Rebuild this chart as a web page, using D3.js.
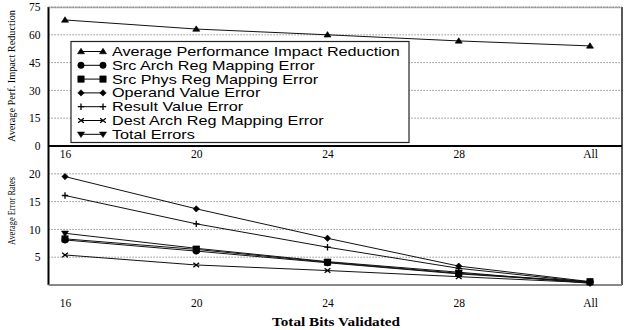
<!DOCTYPE html>
<html>
<head>
<meta charset="utf-8">
<script src="https://cdn.jsdelivr.net/npm/d3@7"></script>
<style>
  body { margin: 0; background: #fff; }
  svg { display: block; }
</style>
</head>
<body>
<div id="chart"></div>
<script>
const bits = ['16', '20', '24', '28', 'All'];
const perfReduction = [68, 63.1, 60, 56.7, 54];
const errorSeries = [
    { name: 'Src Arch Reg Mapping Error', symbol: 'circle', values: [8.1, 6.1, 4.0, 2.0, 0.5] },
    { name: 'Src Phys Reg Mapping Error', symbol: 'square', values: [8.3, 6.4, 4.1, 2.1, 0.6] },
    { name: 'Operand Value Error', symbol: 'diamond', values: [19.5, 13.7, 8.4, 3.4, 0.6] },
    { name: 'Result Value Error', symbol: 'plus', values: [16.1, 11.0, 6.8, 3.0, 0.5] },
    { name: 'Dest Arch Reg Mapping Error', symbol: 'x', values: [5.4, 3.6, 2.6, 1.5, 0.4] },
    { name: 'Total Errors', symbol: 'tridown', values: [9.3, 6.6, 4.2, 2.3, 0.3] }
];
const perfTicks = [0, 15, 30, 45, 60, 75];
const errTicks = [5, 10, 15, 20];

const width = 624, height = 330;
const left = 48.5, right = 622;
const svg = d3.select('#chart').append('svg')
    .attr('width', width).attr('height', height);

let x = d3.scalePoint().domain(bits).range([65, 590]);
let yTop = d3.scaleLinear().domain([0, 75]).range([146, 7]);
let yBot = d3.scaleLinear().domain([0, 25]).range([285, 146]);

const serif = 'Liberation Serif, Times New Roman, serif';
const sans = 'Liberation Sans, Arial, sans-serif';

function symbolPath(kind, cx, cy) {
    let s = 3.2;
    if (kind === 'triup') return `M${cx},${cy - s}L${cx + s * 1.1},${cy + s * 0.7}L${cx - s * 1.1},${cy + s * 0.7}Z`;
    if (kind === 'tridown') return `M${cx},${cy + s}L${cx + s * 1.1},${cy - s * 0.7}L${cx - s * 1.1},${cy - s * 0.7}Z`;
    if (kind === 'square') return `M${cx - s},${cy - s}h${2 * s}v${2 * s}h${-2 * s}Z`;
    if (kind === 'diamond') return `M${cx},${cy - s}L${cx + s},${cy}L${cx},${cy + s}L${cx - s},${cy}Z`;
    if (kind === 'plus') return `M${cx - s},${cy}H${cx + s}M${cx},${cy - s}V${cy + s}`;
    if (kind === 'x') return `M${cx - s * 0.9},${cy - s * 0.7}L${cx + s * 0.9},${cy + s * 0.7}M${cx - s * 0.9},${cy + s * 0.7}L${cx + s * 0.9},${cy - s * 0.7}`;
    // circle
    return `M${cx - s},${cy}a${s},${s} 0 1,0 ${2 * s},0a${s},${s} 0 1,0 ${-2 * s},0`;
}
function drawSymbol(g, kind, cx, cy) {
    let open = kind === 'plus' || kind === 'x';
    g.append('path')
        .attr('d', symbolPath(kind, cx, cy))
        .attr('fill', open ? 'none' : '#000')
        .attr('stroke', '#000')
        .attr('stroke-width', open ? 1.3 : 0.6);
}

// gridlines
function grid(scale, ticks) {
    svg.append('g').selectAll('line').data(ticks).join('line')
        .attr('x1', left).attr('x2', right)
        .attr('y1', d => scale(d)).attr('y2', d => scale(d))
        .attr('stroke', '#777').attr('stroke-width', 1)
        .attr('stroke-dasharray', '1.2,1.8');
}
grid(yTop, perfTicks.filter(d => d > 0));
grid(yBot, errTicks);

// y axes
const axTop = svg.append('g').attr('transform', `translate(${left},0)`)
    .call(d3.axisLeft(yTop).tickValues(perfTicks).tickSize(0).tickPadding(8));
const axBot = svg.append('g').attr('transform', `translate(${left},0)`)
    .call(d3.axisLeft(yBot).tickValues(errTicks).tickSize(0).tickPadding(8));
[axTop, axBot].forEach(a => {
    a.select('.domain').remove();
    a.selectAll('text').attr('font-family', serif).attr('font-size', 11.5).attr('fill', '#000');
});

// x axes (labels only)
const xTop = svg.append('g').attr('transform', 'translate(0,146)')
    .call(d3.axisBottom(x).tickSize(0).tickPadding(4));
const xBot = svg.append('g').attr('transform', 'translate(0,285)')
    .call(d3.axisBottom(x).tickSize(0).tickPadding(14));
[xTop, xBot].forEach(a => {
    a.select('.domain').remove();
    a.selectAll('text').attr('font-family', serif).attr('font-size', 11.5).attr('fill', '#000');
});

// frame
svg.append('line').attr('x1', left).attr('x2', left).attr('y1', 7).attr('y2', 285)
    .attr('stroke', '#000').attr('stroke-width', 2);
svg.append('line').attr('x1', right).attr('x2', right).attr('y1', 7).attr('y2', 285)
    .attr('stroke', '#222').attr('stroke-width', 1.5);
svg.append('line').attr('x1', left).attr('x2', right).attr('y1', 146).attr('y2', 146)
    .attr('stroke', '#000').attr('stroke-width', 1.8);
svg.append('line').attr('x1', left).attr('x2', right).attr('y1', 285).attr('y2', 285)
    .attr('stroke', '#888').attr('stroke-width', 2);
svg.append('line').attr('x1', left).attr('x2', right).attr('y1', 7.5).attr('y2', 7.5)
    .attr('stroke', '#777').attr('stroke-width', 1.5).attr('stroke-dasharray', '1.2,0.8');

// lines
const line = d3.line();
svg.append('path')
    .attr('d', line(perfReduction.map((v, i) => [x(bits[i]), yTop(v)])))
    .attr('fill', 'none').attr('stroke', '#111').attr('stroke-width', 1);
perfReduction.forEach((v, i) => drawSymbol(svg, 'triup', x(bits[i]), yTop(v)));

errorSeries.forEach(s => {
    svg.append('path')
        .attr('d', line(s.values.map((v, i) => [x(bits[i]), yBot(v)])))
        .attr('fill', 'none').attr('stroke', '#111').attr('stroke-width', 1);
});
errorSeries.forEach(s => {
    s.values.forEach((v, i) => drawSymbol(svg, s.symbol, x(bits[i]), yBot(v)));
});

// legend
const legendItems = [{ name: 'Average Performance Impact Reduction', symbol: 'triup' }]
    .concat(errorSeries.map(s => ({ name: s.name, symbol: s.symbol })));
const lg = svg.append('g');
lg.append('rect').attr('x', 71).attr('y', 41.5).attr('width', 338).attr('height', 101)
    .attr('fill', '#fff').attr('stroke', '#222').attr('stroke-width', 1.2);
legendItems.forEach((d, i) => {
    let cy = 51.5 + i * 13.8;
    lg.append('line').attr('x1', 81).attr('x2', 103).attr('y1', cy).attr('y2', cy)
        .attr('stroke', '#000').attr('stroke-width', 1);
    drawSymbol(lg, d.symbol, 81, cy);
    drawSymbol(lg, d.symbol, 103, cy);
    let t = lg.append('text').attr('x', 112).attr('y', cy + 4.5)
        .attr('font-family', sans).attr('font-size', 13.5).text(d.name);
    // the reference text is a bit wider than the plain font
    let w = t.node().getComputedTextLength();
    t.attr('textLength', w * 1.2).attr('lengthAdjust', 'spacingAndGlyphs');
});

// axis titles
svg.append('text').attr('transform', 'translate(15,76) rotate(-90)')
    .attr('text-anchor', 'middle').attr('font-family', serif).attr('font-size', 10)
    .attr('textLength', 132).attr('lengthAdjust', 'spacingAndGlyphs')
    .text('Average Perf. Impact Reduction');
svg.append('text').attr('transform', 'translate(15,211) rotate(-90)')
    .attr('text-anchor', 'middle').attr('font-family', serif).attr('font-size', 10)
    .attr('textLength', 68).attr('lengthAdjust', 'spacingAndGlyphs')
    .text('Average Error Rates');
svg.append('text').attr('x', 336).attr('y', 326)
    .attr('text-anchor', 'middle').attr('font-family', serif).attr('font-size', 13)
    .attr('font-weight', 'bold')
    .attr('textLength', 128).attr('lengthAdjust', 'spacingAndGlyphs')
    .text('Total Bits Validated');
</script>
</body>
</html>
